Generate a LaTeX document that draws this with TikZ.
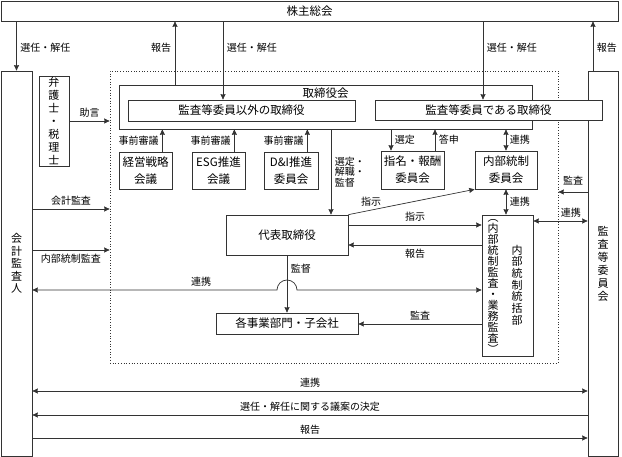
\documentclass[tikz,border=0pt]{standalone}
\usepackage{fontspec}
\setmainfont{Noto Sans CJK JP}
\usepackage{tikz}
\usetikzlibrary{arrows.meta}

\tikzset{
    box/.style = {draw=black!80, fill=white, line width=0.7pt, inner sep=0pt,
                  align=center, font=\fontsize{11.5}{17}\selectfont},
    tate/.style = {box, font=\fontsize{11}{13}\selectfont},
    lbl/.style = {inner sep=3.5pt, font=\fontsize{10}{10.5}\selectfont},
    line/.style = {draw=black!80, line width=0.7pt}
}

\begin{document}
\begin{tikzpicture}[x=1pt, y=-1pt]
            \useasboundingbox (0,0) rectangle (622,457);

            \node (frame) at (334,217) [draw=black!80, line width=0.7pt, dotted,
                minimum width=448pt, minimum height=292pt] {};

            \begin{scope}[every node/.style = {box}]
                \node (kabu)    at (309.5,11)   [minimum width=617pt, minimum height=20pt] {株主総会};
                \node (kaikei)  at (16.5,263.5) [tate, minimum width=31pt, minimum height=385pt,
                                                 font=\fontsize{11}{12.5}\selectfont] {会\\計\\監\\査\\人};
                \node (iinkai)  at (603,263.5)  [tate, minimum width=30pt, minimum height=385pt] {監\\査\\等\\委\\員\\会};
                \node (bengo)   at (54,121)     [tate, minimum width=30pt, minimum height=90pt] {弁\\護\\士\\・\\税\\理\\士};
                \node (torikai) at (325.5,107)  [minimum width=413pt, minimum height=44pt] {};
                \node (igai)    at (241.5,110.5) [minimum width=227pt, minimum height=21pt] {監査等委員以外の取締役};
                \node (dearu)   at (488.5,110)  [minimum width=227pt, minimum height=20pt] {監査等委員である取締役};
                \node (keiei)   at (145.5,170.5) [minimum width=53pt, minimum height=37pt] {経営戦略\\会議};
                \node (esg)     at (218.5,170.5) [minimum width=53pt, minimum height=37pt] {ESG推進\\会議};
                \node (dei)     at (291,170.5)  [minimum width=54pt, minimum height=37pt] {D\&I推進\\委員会};
                \node (shimei)  at (412.5,170)  [minimum width=63pt, minimum height=38pt] {指名・報酬\\委員会};
                \node (naibu)   at (506,170)    [minimum width=62pt, minimum height=38pt] {内部統制\\委員会};
                \node (daihyo)  at (287,235)    [minimum width=122pt, minimum height=40pt] {代表取締役};
                \node (tokatsu) at (507.5,285.5) [minimum width=51pt, minimum height=141pt] {};
                \node (jigyo)   at (287,323.5)  [minimum width=142pt, minimum height=21pt] {各事業部門・子会社};
            \end{scope}

            \begin{scope}[every node/.style = {align=center, inner sep=0pt}]
                \node (torilbl)  at (325.5,93) [font=\fontsize{11.5}{13}\selectfont] {取締役会};
                \node (tokatsuL) at (493,286)  [font=\fontsize{11}{11}\selectfont] {︵\\内\\部\\統\\制\\監\\査\\・\\業\\務\\監\\査\\︶};
                \node (tokatsuR) at (517,285)  [font=\fontsize{11}{11.7}\selectfont] {内\\部\\統\\制\\統\\括\\部};
            \end{scope}

            \coordinate (xHokokuL) at (175,0);
            \coordinate (xSenninL) at (223,0);
            \coordinate (xSenninR) at (483,0);
            \coordinate (xHokokuR) at (593,0);
            \coordinate (xKantoku) at (331,0);
            \coordinate (xSentei)  at (391,0);
            \coordinate (xToshin)  at (435,0);
            \coordinate (yKaikei)  at (0,209);
            \coordinate (yNaibu)   at (0,250);
            \coordinate (yRenkei)  at (0,290);
            \coordinate (yShiji)   at (0,225);
            \coordinate (yHokoku)  at (0,245);
            \coordinate (yKansa)   at (0,324);
            \coordinate (yKansaR)  at (0,192);
            \coordinate (yRenkeiR) at (0,221);
            \coordinate (yBtmA)    at (0,391);
            \coordinate (yBtmB)    at (0,415);
            \coordinate (yBtmC)    at (0,438);

            \begin{scope}[>={Stealth[length=5.5pt, width=5pt, inset=0.5pt]},
                            every node/.style={lbl},
                            every edge/.style={line}]
                \path [->] (kaikei.north |- kabu.south) edge node[right, pos=0.54] {選任・解任} (kaikei.north);
                \path [->] (xHokokuL |- torikai.north) edge node[left, pos=0.58] {報告} (xHokokuL |- kabu.south);
                \path [->] (xSenninL |- kabu.south) edge node[right, pos=0.34] {選任・解任} (xSenninL |- igai.north);
                \path [->] (xSenninR |- kabu.south) edge node[right, pos=0.34] {選任・解任} (xSenninR |- dearu.north);
                \path [->] (xHokokuR |- iinkai.north) edge node[right, pos=0.46] {報告} (xHokokuR |- kabu.south);

                \path [->] (bengo.east) edge node[above] {助言} (frame.west |- bengo.east);
                \path [->] (kaikei.east |- yKaikei) edge node[above] {会計監査} (frame.west |- yKaikei);
                \path [->] (kaikei.east |- yNaibu) edge node[below] {内部統制監査} (frame.west |- yNaibu);

                \path [->] ([xshift=-10pt]keiei.north east) edge node[left] {事前審議} ([xshift=-10pt]keiei.north east |- torikai.south);
                \path [->] ([xshift=-11pt]esg.north east) edge node[left] {事前審議} ([xshift=-11pt]esg.north east |- torikai.south);
                \path [->] ([xshift=-11pt]dei.north east) edge node[left] {事前審議} ([xshift=-11pt]dei.north east |- torikai.south);

                \path [->] (xKantoku |- torikai.south) edge node[right, align=left] {選定・\\解職・\\監督} (xKantoku |- daihyo.north);
                \path [->] (xSentei |- torikai.south) edge node[right] {選定} (xSentei |- shimei.north);
                \path [->] (xToshin |- shimei.north) edge node[right] {答申} (xToshin |- torikai.south);
                \path [<->] (naibu.north |- torikai.south) edge node[right] {連携} (naibu.north);
                \path [<->] (naibu.south) edge node[right] {連携} (naibu.south |- tokatsu.north);
                \path [->] (daihyo.north east) edge node[above, pos=0.18] {指示} (naibu.south west);

                \path [->] (daihyo.east |- yShiji) edge node[above] {指示} (tokatsu.west |- yShiji);
                \path [->] (tokatsu.west |- yHokoku) edge node[below] {報告} (daihyo.east |- yHokoku);
                \path [->] (daihyo.south) edge node[right, pos=0.24] {監督} (jigyo.north);
                \path [->] (tokatsu.west |- yKansa) edge node[above] {監査} (jigyo.east |- yKansa);

                \path [->] (iinkai.west |- yKansaR) edge node[above=3pt] {監査} (frame.east |- yKansaR);
                \path [<->] (tokatsu.east |- yRenkeiR) edge node[above, pos=0.69] {連携} (iinkai.west |- yRenkeiR);

                \draw [<->, line] (tokatsu.west |- yRenkei) -- ([xshift=10pt]daihyo.south |- yRenkei)
                    arc[start angle=0, end angle=180, radius=10pt]
                    -- node[above, pos=0.31] {連携} (kaikei.east |- yRenkei);

                \path [<->] (kaikei.east |- yBtmA) edge node[above] {連携} (iinkai.west |- yBtmA);
                \path [->] (iinkai.west |- yBtmB) edge node[above] {選任・解任に関する議案の決定} (kaikei.east |- yBtmB);
                \path [->] (kaikei.east |- yBtmC) edge node[above] {報告} (iinkai.west |- yBtmC);
            \end{scope}
        \end{tikzpicture}
\end{document}
